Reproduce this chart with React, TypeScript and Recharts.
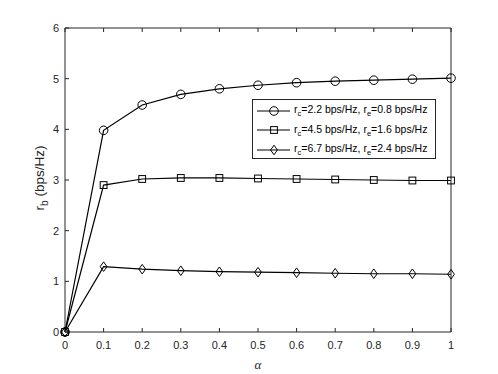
import { Line, LineChart, XAxis, YAxis, Label } from "recharts"

const alpha = [0, 0.1, 0.2, 0.3, 0.4, 0.5, 0.6, 0.7, 0.8, 0.9, 1]
const rateLow = [0, 3.98, 4.48, 4.69, 4.8, 4.87, 4.92, 4.95, 4.97, 4.99, 5.01]
const rateMid = [0, 2.9, 3.02, 3.04, 3.04, 3.03, 3.02, 3.01, 3.0, 2.99, 2.99]
const rateHigh = [0, 1.29, 1.24, 1.21, 1.19, 1.18, 1.17, 1.16, 1.15, 1.15, 1.14]
const xTicks = [0, 0.1, 0.2, 0.3, 0.4, 0.5, 0.6, 0.7, 0.8, 0.9, 1]
const yTicks = [0, 1, 2, 3, 4, 5, 6]

const series = [
  { key: "low", rc: "2.2", re: "0.8", shape: "circle", values: rateLow },
  { key: "mid", rc: "4.5", re: "1.6", shape: "square", values: rateMid },
  { key: "high", rc: "6.7", re: "2.4", shape: "diamond", values: rateHigh },
]

const data = alpha.map((a, i) => {
  const row: Record<string, number> = { alpha: a }
  series.forEach((s) => (row[s.key] = s.values[i]))
  return row
})

const AXIS = "#262626"
const FONT = "'Liberation Sans', Arial, sans-serif"

function Marker({ shape, cx, cy }: { shape: string; cx: number; cy: number }) {
  const common = { fill: "none", stroke: "#000", strokeWidth: 1 }
  if (shape === "circle") return <circle cx={cx} cy={cy} r={4.3} {...common} />
  if (shape === "square") return <rect x={cx - 3.4} y={cy - 3.4} width={6.8} height={6.8} {...common} />
  return <path d={`M${cx},${cy - 4.8}L${cx + 3.4},${cy}L${cx},${cy + 4.8}L${cx - 3.4},${cy}Z`} {...common} />
}

function YLabel() {
  return (
    <text x={44} y={178} transform="rotate(-90 44 178)" textAnchor="middle" fill={AXIS} fontFamily={FONT} fontSize={13.5}>
      r<tspan fontSize={10} dy={3.5}>b</tspan>
      <tspan dy={-3.5}> (bps/Hz)</tspan>
    </text>
  )
}

function XLabel() {
  return (
    <text x={258} y={369} textAnchor="middle" fill={AXIS} fontFamily="'Liberation Serif', serif" fontStyle="italic" fontSize={13}>
      α
    </text>
  )
}

function LegendBox() {
  return (
    <div
      style={{
        position: "absolute",
        left: 252,
        top: 99,
        width: 184,
        height: 60,
        border: `1px solid ${AXIS}`,
        background: "#fff",
        fontFamily: FONT,
        fontSize: 10.5,
        color: "#000",
        boxSizing: "border-box",
        paddingTop: 1,
      }}
    >
      {series.map((s) => (
        <div key={s.key} style={{ display: "flex", alignItems: "center", height: 19.5 }}>
          <svg width={37} height={14} style={{ marginLeft: 2 }}>
            <line x1={2} x2={35} y1={7} y2={7} stroke="#000" strokeWidth={1.2} />
            <Marker shape={s.shape} cx={19} cy={7} />
          </svg>
          <span style={{ marginLeft: 2, whiteSpace: "nowrap" }}>
            r<sub style={{ fontSize: 7.5 }}>c</sub>={s.rc} bps/Hz, r<sub style={{ fontSize: 7.5 }}>e</sub>={s.re} bps/Hz
          </span>
        </div>
      ))}
    </div>
  )
}

const noLabel = () => <g />

export default function App() {
  return (
    <div style={{ position: "absolute", left: 0, top: 0, width: 498, height: 374, background: "#fff" }}>
      <LineChart width={498} height={374} data={data} margin={{ top: 27, right: 46, bottom: 0, left: 0 }}>
        <XAxis
          dataKey="alpha"
          type="number"
          domain={[0, 1]}
          ticks={xTicks}
          height={42}
          tickSize={-4}
          tickMargin={13}
          stroke={AXIS}
          tick={{ fill: AXIS, fontFamily: FONT, fontSize: 11 }}
          label={<Label content={XLabel} />}
        />
        <XAxis
          xAxisId="top"
          dataKey="alpha"
          type="number"
          orientation="top"
          domain={[0, 1]}
          ticks={xTicks}
          height={1}
          tickSize={-4}
          stroke={AXIS}
          tick={noLabel}
        />
        <YAxis
          type="number"
          domain={[0, 6]}
          ticks={yTicks}
          width={65}
          tickSize={-4}
          tickMargin={10}
          stroke={AXIS}
          tick={{ fill: AXIS, fontFamily: FONT, fontSize: 11 }}
          label={<Label content={YLabel} />}
        />
        <YAxis
          yAxisId="right"
          type="number"
          orientation="right"
          domain={[0, 6]}
          ticks={yTicks}
          width={1}
          tickSize={-4}
          stroke={AXIS}
          tick={noLabel}
        />
        {series.map((s) => (
          <Line
            key={s.key}
            dataKey={s.key}
            type="linear"
            stroke="#000"
            strokeWidth={1.2}
            isAnimationActive={false}
            dot={(p: any) => <Marker key={`${s.key}-${p.index}`} shape={s.shape} cx={p.cx} cy={p.cy} />}
            activeDot={false}
          />
        ))}
      </LineChart>
      <LegendBox />
    </div>
  )
}
